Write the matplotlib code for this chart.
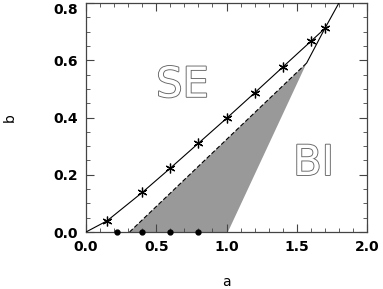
import numpy as np
import matplotlib
matplotlib.use("Agg")
import matplotlib.pyplot as plt
import matplotlib.patheffects as pe
from matplotlib.ticker import MultipleLocator

# boundary curve with star points
star_a = [0.0, 0.15, 0.40, 0.60, 0.80, 1.00, 1.20, 1.40, 1.60, 1.70]
star_b = [0.0, 0.039, 0.138, 0.223, 0.310, 0.397, 0.486, 0.576, 0.666, 0.711]

# steep upper branch
steep_a = [1.57, 1.70, 1.80]
steep_b = [0.59, 0.711, 0.80]

# shaded region (triangle)
shade_a = [0.31, 1.01, 1.57]
shade_b = [0.0, 0.0, 0.59]

# dots on the a axis
dot_a = [0.22, 0.40, 0.60, 0.80]
dot_b = [0.0, 0.0, 0.0, 0.0]

fig = plt.figure(figsize=(3.83, 2.89), dpi=100)
ax = fig.add_axes([86/383, 1 - 232/289, (367-86)/383, (232-3)/289])

ax.fill(shade_a, shade_b, color="#999999", lw=0, zorder=1)
ax.plot([shade_a[0], shade_a[2]], [shade_b[0], shade_b[2]], "k--", lw=0.8, dashes=(4, 2), zorder=2)
ax.plot(star_a, star_b, "k-", lw=0.8, zorder=3)
ax.plot(star_a[1:], star_b[1:], ls="none", marker=(6, 2, 0), ms=7, mec="k", mew=0.9, zorder=4)
ax.plot(steep_a, steep_b, "k-", lw=0.8, zorder=3)
ax.plot(dot_a, dot_b, "ko", ms=3.5, clip_on=False, zorder=5)

outline = [pe.withStroke(linewidth=1.3, foreground="#666666")]
ax.text(0.687, 0.514, "SE", fontsize=30, color="white", ha="center", va="center",
        family="DejaVu Sans", path_effects=outline)
ax.text(1.62, 0.241, "BI", fontsize=30, color="white", ha="center", va="center",
        family="DejaVu Sans", path_effects=outline)

ax.set_xlim(0, 2.0)
ax.set_ylim(0, 0.8)
ax.set_xticks([0.0, 0.5, 1.0, 1.5, 2.0])
ax.set_yticks([0.0, 0.2, 0.4, 0.6, 0.8])
ax.set_xticklabels(["0.0", "0.5", "1.0", "1.5", "2.0"], fontweight="bold")
ax.set_yticklabels(["0.0", "0.2", "0.4", "0.6", "0.8"], fontweight="bold")
ax.xaxis.set_minor_locator(MultipleLocator(0.1))
ax.yaxis.set_minor_locator(MultipleLocator(0.05))
ax.tick_params(which="both", direction="in", top=True, right=True, color="#444444")
ax.tick_params(which="major", length=6, width=0.8, labelsize=10, pad=6)
ax.tick_params(which="minor", length=3, width=0.6)
ax.get_yticklabels()[-1].set_va("top")
for s in ax.spines.values():
    s.set_color("#444444")
    s.set_linewidth(0.9)

ax.set_xlabel("a", fontsize=10, labelpad=15)
ax.set_ylabel("b", fontsize=10, labelpad=26)

fig.savefig("out.png", dpi=100)
